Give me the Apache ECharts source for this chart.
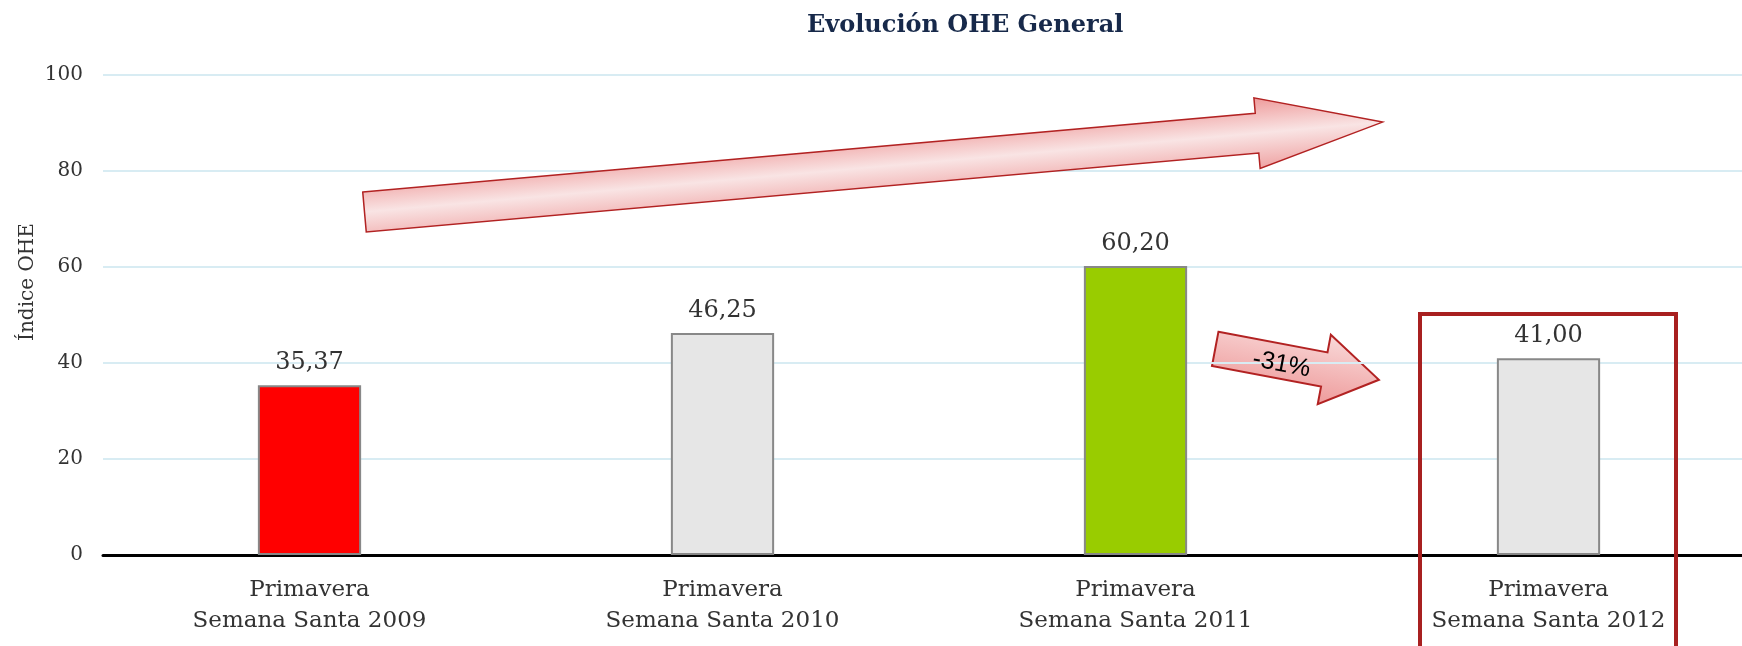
<!DOCTYPE html>
<html>
<head>
<meta charset="utf-8">
<title>Evolución OHE General</title>
<script src="https://cdn.jsdelivr.net/npm/echarts@6/dist/echarts.min.js"></script>
<style>
  html, body { margin: 0; padding: 0; background: #fff; }
  #main { width: 1742px; height: 646px; }
</style>
</head>
<body>
<div id="main"></div>
<script>
// datos del gráfico
var categories = [
  "Primavera\nSemana Santa 2009",
  "Primavera\nSemana Santa 2010",
  "Primavera\nSemana Santa 2011",
  "Primavera\nSemana Santa 2012"
];
var ohe = [35.37, 46.25, 60.20, 41.00];
var barColors = ["#ff0000", "#e6e6e6", "#99cc00", "#e6e6e6"];
var yTicks = [0, 20, 40, 60, 80, 100];
var variation = "-31%";

var serif = "Georgia, 'DejaVu Serif', serif";

var myChart = echarts.init(document.getElementById("main"));

// flecha horizontal en coordenadas locales (origen en la cola)
function arrowPoints(len, headStart, shaftHalf, headHalf) {
  return [
    [0, -shaftHalf], [headStart, -shaftHalf], [headStart, -headHalf],
    [len, 0], [headStart, headHalf], [headStart, shaftHalf], [0, shaftHalf]
  ];
}

myChart.setOption({
  animation: false,
  title: {
    text: "Evolución OHE General",
    left: 802,
    top: 9,
    textStyle: {
      fontFamily: serif,
      fontWeight: "bold",
      fontSize: 24,
      color: "#17294a"
    }
  },
  grid: {
    left: 103,
    width: 1652,   // el eje sigue más allá del borde derecho
    top: 75,
    bottom: 91,
    outerBoundsMode: "none"
  },
  xAxis: {
    type: "category",
    data: categories,
    axisLine: { lineStyle: { color: "#000", width: 3 } },
    axisTick: { length: 8, lineStyle: { color: "#000", width: 2 } },
    axisLabel: {
      margin: 20,
      fontFamily: serif,
      fontSize: 23,
      lineHeight: 31,
      color: "#333"
    }
  },
  yAxis: {
    type: "value",
    min: yTicks[0],
    max: yTicks[yTicks.length - 1],
    interval: yTicks[1] - yTicks[0],
    axisLine: { show: false },
    axisTick: { show: false },
    splitLine: { lineStyle: { color: "#d8ecf3", width: 2 } },
    axisLabel: {
      margin: 20,
      fontFamily: serif,
      fontSize: 20,
      color: "#333"
    }
  },
  series: [
    {
      type: "bar",
      barWidth: "25%",
      data: ohe.map(function(v, i) {
        return { value: v, itemStyle: { color: barColors[i] } };
      }),
      itemStyle: { borderColor: "#888", borderWidth: 2 },
      label: {
        show: true,
        position: "top",
        distance: 10,
        fontFamily: serif,
        fontSize: 24,
        color: "#333",
        formatter: function(p) {
          return p.value.toFixed(2).replace(".", ",");
        }
      }
    }
  ],
  graphic: [
    {
      type: "text",
      x: 28,
      y: 282,
      rotation: Math.PI / 2,
      style: {
        text: "Índice OHE",
        fontFamily: serif,
        fontSize: 20,
        fill: "#333",
        align: "center",
        verticalAlign: "middle"
      }
    },
    {
      // flecha grande de tendencia
      type: "polygon",
      x: 364.5,
      y: 212,
      rotation: 0.0881,
      z: 10,
      shape: { points: arrowPoints(1022, 896, 20, 35.5) },
      style: {
        fill: new echarts.graphic.LinearGradient(0, 0, 0, 1, [
          { offset: 0, color: "#ee9999" },
          { offset: 0.5, color: "#f9e4e4" },
          { offset: 1, color: "#efa3a3" }
        ]),
        stroke: "#b22222",
        lineWidth: 1.5
      }
    },
    {
      // flecha -31%
      type: "group",
      x: 1215.2,
      y: 348.9,
      rotation: -0.1865,
      z: 10,
      children: [
        {
          type: "polygon",
          shape: { points: arrowPoints(166.6, 111, 17.4, 35.4) },
          style: {
            fill: new echarts.graphic.LinearGradient(0, 0, 0, 1, [
              { offset: 0, color: "#f9dada" },
              { offset: 1, color: "#ee9a9a" }
            ]),
            stroke: "#b22222",
            lineWidth: 2
          }
        },
        {
          type: "text",
          x: 68,
          y: 3,
          z: 11,
          style: {
            text: variation,
            fontFamily: "Arial, 'Liberation Sans', sans-serif",
            fontSize: 25,
            fill: "#000",
            align: "center",
            verticalAlign: "middle"
          }
        }
      ]
    },
    {
      // recuadro de 2012
      type: "rect",
      z: 10,
      shape: { x: 1420, y: 314, width: 256, height: 345 },
      style: { fill: "none", stroke: "#a82020", lineWidth: 4 }
    }
  ]
});
</script>
</body>
</html>
